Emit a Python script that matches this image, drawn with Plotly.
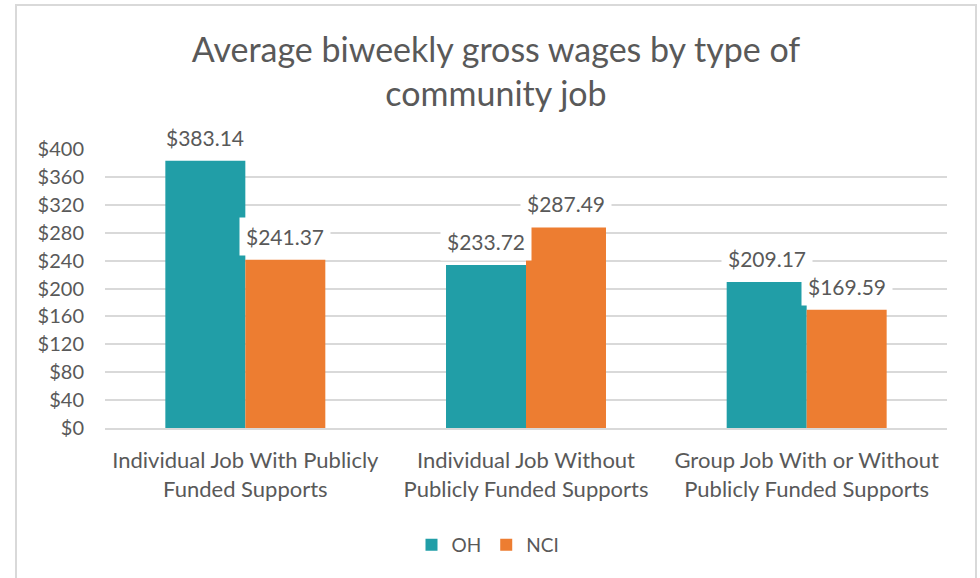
import plotly.graph_objects as go

categories = ["Individual Job With Publicly<br>Funded Supports",
              "Individual Job Without<br>Publicly Funded Supports",
              "Group Job With or Without<br>Publicly Funded Supports"]
series_names = ["OH", "NCI"]
oh_values = [383.14, 233.72, 209.17]
nci_values = [241.37, 287.49, 169.59]
colors = ["#219EA7", "#ED7D31"]
y_ticks = list(range(0, 401, 40))

FONT = "Lato"
TXT = "#595959"
W, H = 980, 578
ML, MR, MT, MB = 105, 33, 149, 150

fig = go.Figure()
for name, vals, col in zip(series_names, [oh_values, nci_values], colors):
    fig.add_trace(go.Bar(x=categories, y=vals, name=name, marker=dict(color=col, line=dict(width=0))))

for i, (vals, shift) in enumerate([(oh_values, -40), (nci_values, 40)]):
    for c, v in zip(categories, vals):
        fig.add_annotation(x=c, y=v, xref="x", yref="y", text=f"${v:.2f}",
                           showarrow=False, xshift=shift, yanchor="bottom", yshift=4,
                           bgcolor="white", borderpad=6,
                           font=dict(family=FONT, size=21, color=TXT))

pw = W - ML - MR
ph = H - MT - MB
x0 = (16 - ML) / pw
x1 = (976 - ML) / pw
y1 = (H - MB - 5) / ph
y0 = (H - MB - 590) / ph
fig.add_shape(type="rect", xref="paper", yref="paper", x0=x0, x1=x1, y0=y0, y1=y1,
              line=dict(color="#D9D9D9", width=2), fillcolor="rgba(0,0,0,0)", layer="below")

fig.update_layout(
    width=W, height=H,
    margin=dict(l=ML, r=MR, t=MT, b=MB),
    paper_bgcolor="white", plot_bgcolor="white",
    barmode="group", bargap=0.43, bargroupgap=0,
    font=dict(family=FONT, color=TXT),
    title=dict(text="Average biweekly gross wages by type of<br>community job",
               xref="container", yref="container", x=496 / W, xanchor="center",
               y=1 - 62 / H, yanchor="middle",
               font=dict(family=FONT, size=34, color=TXT)),
    legend=dict(orientation="h", xref="container", yref="container",
                x=488 / W, xanchor="center", y=1 - 545 / H, yanchor="middle",
                font=dict(family=FONT, size=19, color=TXT), traceorder="normal"),
    xaxis=dict(showgrid=False, showline=True, linecolor="#D9D9D9", linewidth=2,
               tickfont=dict(family=FONT, size=22, color=TXT), ticks="",
               ticklabelstandoff=12),
    yaxis=dict(range=[0, 400], tickvals=y_ticks, ticktext=[f"${t}" for t in y_ticks],
               showgrid=True, gridcolor="#D9D9D9", gridwidth=2, zeroline=False,
               showline=False, tickfont=dict(family=FONT, size=20, color=TXT),
               ticklabelstandoff=20),
)

fig.write_html("out.html")
